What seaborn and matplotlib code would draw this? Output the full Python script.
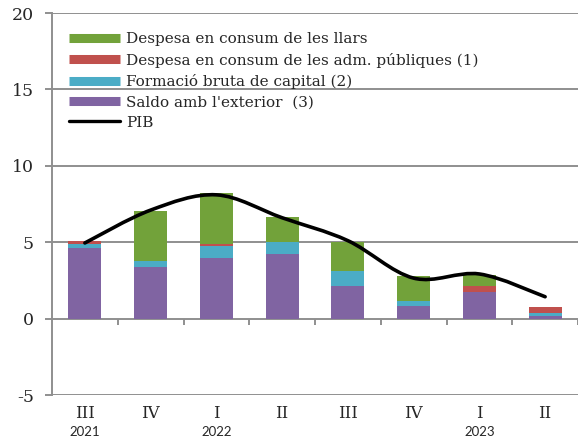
import numpy as np
import pandas as pd
import seaborn as sns
import matplotlib.pyplot as plt
from matplotlib.path import Path
from matplotlib.patches import PathPatch
from matplotlib.lines import Line2D
import matplotlib.transforms as mtransforms

trimestres = ["III", "IV", "I", "II", "III", "IV", "I", "II"]
anys = {0: "2021", 2: "2022", 6: "2023"}

saldo_exterior = [4.60, 3.37, 3.95, 4.20, 2.12, 0.82, 1.74, 0.15]
formacio_capital = [0.30, 0.40, 0.80, 0.80, 0.98, 0.34, 0.00, 0.20]
consum_adm = [0.15, 0.00, 0.10, 0.00, 0.00, 0.00, 0.40, 0.40]
consum_llars = [0.00, 3.28, 3.35, 1.65, 1.90, 1.62, 0.72, 0.00]
pib = [4.95, 7.10, 8.10, 6.60, 5.10, 2.65, 2.92, 1.43]

noms = ["Despesa en consum de les llars",
        "Despesa en consum de les adm. públiques (1)",
        "Formació bruta de capital (2)",
        "Saldo amb l'exterior  (3)"]
colors = ["#72A23A", "#C0504D", "#4BACC6", "#8064A2"]

df = pd.DataFrame({"pos": np.arange(len(trimestres)),
                   "saldo": saldo_exterior,
                   "capital": formacio_capital,
                   "adm": consum_adm,
                   "llars": consum_llars})
df["c1"] = df["saldo"]
df["c2"] = df["c1"] + df["capital"]
df["c3"] = df["c2"] + df["adm"]
df["c4"] = df["c3"] + df["llars"]

sns.set_style("white")
plt.rcParams["font.family"] = ["DejaVu Serif"]
plt.rcParams["axes.unicode_minus"] = False

fig = plt.figure(figsize=(5.78, 4.41), dpi=100)
ax = fig.add_axes([52 / 578, 46 / 441, 526 / 578, 382 / 441])

# stacked bars drawn as overlapping cumulative totals
for col, c in zip(["c4", "c3", "c2", "c1"], colors):
    sns.barplot(data=df, x="pos", y=col, color=c, saturation=1,
                width=0.5, linewidth=0, ax=ax, zorder=2)

# smoothed PIB line (Excel-style Bezier through the points)
x = np.arange(len(pib), dtype=float)
y = np.array(pib)
verts = [(x[0], y[0])]
codes = [Path.MOVETO]
n = len(x)
for i in range(n - 1):
    p0 = np.array([x[max(i - 1, 0)], y[max(i - 1, 0)]])
    p1 = np.array([x[i], y[i]])
    p2 = np.array([x[i + 1], y[i + 1]])
    p3 = np.array([x[min(i + 2, n - 1)], y[min(i + 2, n - 1)]])
    c1 = p1 + (p2 - p0) / 6
    c2 = p2 - (p3 - p1) / 6
    verts += [tuple(c1), tuple(c2), tuple(p2)]
    codes += [Path.CURVE4] * 3
ax.add_patch(PathPatch(Path(verts, codes), facecolor="none",
                       edgecolor="black", lw=2.6, zorder=4,
                       capstyle="round"))

ax.set_xlim(-0.5, len(trimestres) - 0.5)
ax.set_ylim(-5, 20)
ax.set_yticks(np.arange(-5, 21, 5))
ax.yaxis.grid(True, color="#8f8f8f", lw=1.4, zorder=0)
ax.set_axisbelow(True)
ax.set_xlabel("")
ax.set_ylabel("")

for s in ["top", "right", "bottom"]:
    ax.spines[s].set_visible(False)
ax.spines["left"].set_color("#8f8f8f")
ax.spines["left"].set_linewidth(1.4)

ax.set_xticks(np.arange(len(trimestres)))
ax.set_xticklabels(trimestres, fontsize=12)
ax.tick_params(axis="x", length=0, pad=7)
ax.tick_params(axis="y", length=5, width=1.4, color="#8f8f8f",
               labelsize=12.5, direction="out", pad=8)
ax.yaxis.set_tick_params(left=True)

# category separators on the zero line
sec = ax.secondary_xaxis(0.2)
sec.set_xticks(np.arange(len(trimestres)) + 0.5)
sec.set_xticklabels([])
sec.tick_params(length=4, width=1.4, color="#8f8f8f", direction="out")
sec.spines["bottom"].set_visible(False)

trans = mtransforms.blended_transform_factory(ax.transData, ax.transAxes)
for i, a in anys.items():
    ax.text(i, -0.097, a, transform=trans, ha="center", va="center",
            fontsize=9.5, family=["Lato", "DejaVu Sans"])

handles = [Line2D([], [], color=c, lw=6.5, solid_capstyle="butt") for c in colors]
handles.append(Line2D([], [], color="black", lw=2.4))
ax.legend(handles, noms + ["PIB"], loc="upper left",
          bbox_to_anchor=(0.033, 0.95), frameon=False, fontsize=11,
          handlelength=3.3, handletextpad=0.4, labelspacing=0.42,
          borderpad=0, borderaxespad=0)

fig.savefig("out.png", dpi=100)
